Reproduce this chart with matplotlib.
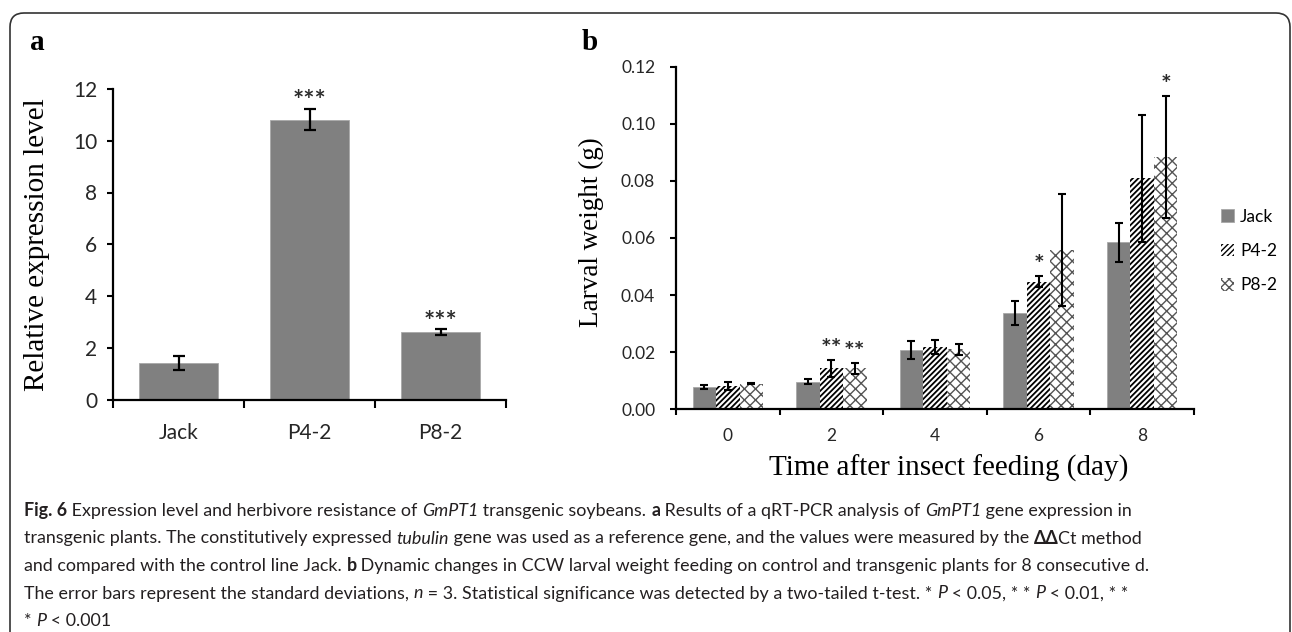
import matplotlib
matplotlib.use("Agg")
import matplotlib.pyplot as plt
import numpy as np
from matplotlib.patches import FancyBboxPatch, Patch
from matplotlib.transforms import IdentityTransform
from matplotlib.ticker import FormatStrFormatter, NullFormatter

# panel a: relative expression
lines_a = ["Jack", "P4-2", "P8-2"]
expr_a = [1.42, 10.82, 2.60]
expr_err_a = [0.27, 0.41, 0.11]
sig_a = ["", "***", "***"]

# panel b: larval weight
days = [0, 2, 4, 6, 8]
series_b = ["Jack", "P4-2", "P8-2"]
jack_b = [0.0077, 0.0097, 0.0208, 0.0338, 0.0585]
jack_err_b = [0.0007, 0.0008, 0.0031, 0.0042, 0.0068]
p42_b = [0.0082, 0.0144, 0.0219, 0.0447, 0.0809]
p42_err_b = [0.0014, 0.0030, 0.0025, 0.0020, 0.0222]
p82_b = [0.0089, 0.0144, 0.0210, 0.0558, 0.0884]
p82_err_b = [0.0002, 0.0019, 0.0019, 0.0196, 0.0215]
sig_jack = ["", "", "", "", ""]
sig_p42 = ["", "**", "", "*", ""]
sig_p82 = ["", "**", "", "", "*"]

W, H = 1292, 632
serif = "Liberation Serif"
sans = "Lato"
cap_font = "Lato"
dark = "#262626"

fig = plt.figure(figsize=(W / 100, H / 100), dpi=100)

# rounded frame around the whole figure
frame = FancyBboxPatch((10, -60), 1280, H - 13 + 60,
                       boxstyle="round,pad=0,rounding_size=14",
                       transform=IdentityTransform(), fill=False,
                       edgecolor="#333333", linewidth=1.2)
fig.add_artist(frame)

# ---------------- panel a ----------------
ax1 = fig.add_axes([113 / W, 1 - 399.5 / H, (506 - 113) / W, (399.5 - 89) / H])
xa = np.arange(len(lines_a))
ax1.bar(xa, expr_a, width=0.61, color="#808080", edgecolor="#a8a8a8", linewidth=0.6)
ax1.errorbar(xa, expr_a, yerr=expr_err_a, fmt="none", ecolor="black",
             elinewidth=1.6, capsize=4, capthick=1.6)
for xi, v, e, s in zip(xa, expr_a, expr_err_a, sig_a):
    if s:
        ax1.annotate(s, (xi, v + e), xytext=(0, -3), textcoords="offset points",
                     ha="center", va="bottom", fontsize=19, color="#2b2b2b",
                     family=sans, fontweight="bold")
ax1.set_xlim(-0.5, 2.5)
ax1.set_ylim(0, 12)
ax1.set_yticks(range(0, 13, 2))
ax1.set_xticks([-0.5, 0.5, 1.5, 2.5])
ax1.xaxis.set_major_formatter(NullFormatter())
ax1.set_xticks(xa, minor=True)
ax1.set_xticklabels(lines_a, minor=True)
ax1.tick_params(axis="x", which="major", direction="out", length=6, width=1.5)
ax1.tick_params(axis="x", which="minor", length=0, pad=17)
ax1.tick_params(axis="y", direction="out", length=4.5, width=1.5, pad=7)
for lab in ax1.get_xticklabels(minor=True) + ax1.get_yticklabels():
    lab.set_fontfamily(sans)
    lab.set_fontsize(15)
    lab.set_color(dark)
for sp in ["top", "right"]:
    ax1.spines[sp].set_visible(False)
for sp in ["left", "bottom"]:
    ax1.spines[sp].set_linewidth(1.6)
ax1.set_ylabel("Relative expression level", family=serif, fontsize=21, va="center")
ax1.yaxis.set_label_coords(-0.193, 0.5)

# ---------------- panel b ----------------
ax2 = fig.add_axes([676 / W, 1 - 409.3 / H, (1194 - 676) / W, (409.3 - 66.7) / H])
xb = np.arange(len(days))
bw = 0.227
plt.rcParams["hatch.linewidth"] = 1.3
b_jack = ax2.bar(xb - bw, jack_b, width=bw, color="#808080", edgecolor="#a8a8a8", linewidth=0.6)
b_p42 = ax2.bar(xb, p42_b, width=bw, color="white", edgecolor="black", hatch="//////", linewidth=0)
plt.rcParams["hatch.linewidth"] = 1.0
b_p82 = ax2.bar(xb + bw, p82_b, width=bw, color="white", edgecolor="#555555", hatch="xxx", linewidth=0)

for off, vals, errs, sigs in [(-bw, jack_b, jack_err_b, sig_jack),
                              (0, p42_b, p42_err_b, sig_p42),
                              (bw, p82_b, p82_err_b, sig_p82)]:
    ax2.errorbar(xb + off, vals, yerr=errs, fmt="none", ecolor="black",
                 elinewidth=1.5, capsize=3, capthick=1.5, zorder=3)
    for xi, v, e, s in zip(xb + off, vals, errs, sigs):
        if s:
            ax2.annotate(s, (xi, v + e), xytext=(0, -1), textcoords="offset points",
                         ha="center", va="bottom", fontsize=18, color="#2b2b2b",
                         family=sans, fontweight="bold")

ax2.set_xlim(-0.5, len(days) - 0.5)
ax2.set_ylim(0, 0.12)
ax2.set_yticks(np.arange(0, 0.121, 0.02))
ax2.yaxis.set_major_formatter(FormatStrFormatter("%.2f"))
ax2.set_xticks(np.arange(-0.5, len(days), 1.0))
ax2.xaxis.set_major_formatter(NullFormatter())
ax2.set_xticks(xb, minor=True)
ax2.set_xticklabels([str(d) for d in days], minor=True)
ax2.tick_params(axis="x", which="major", direction="out", length=4, width=1.5)
ax2.tick_params(axis="x", which="minor", length=0, pad=13.5)
ax2.tick_params(axis="y", direction="out", length=4, width=1.5, pad=11)
for lab in ax2.get_xticklabels(minor=True) + ax2.get_yticklabels():
    lab.set_fontfamily(sans)
    lab.set_fontsize(12.5)
    lab.set_color(dark)
for sp in ["top", "right"]:
    ax2.spines[sp].set_visible(False)
for sp in ["left", "bottom"]:
    ax2.spines[sp].set_linewidth(1.6)
ax2.set_ylabel("Larval weight (g)", family=serif, fontsize=19.5, va="center")
ax2.yaxis.set_label_coords(-0.164, 0.516)
ax2.set_xlabel("Time after insect feeding (day)", family=serif, fontsize=21, va="center")
ax2.xaxis.set_label_coords(0.527, -0.171)

handles = [Patch(facecolor="#808080", edgecolor="#a8a8a8", linewidth=0.6, label="Jack"),
           Patch(facecolor="white", edgecolor="black", hatch="//////", linewidth=0, label="P4-2"),
           Patch(facecolor="white", edgecolor="#555555", hatch="xxxx", linewidth=0, label="P8-2")]
fig.legend(handles=handles, loc="center left", bbox_to_anchor=(1221 / W, 1 - 251 / H),
           frameon=False, prop={"family": sans, "size": 12.5}, handlelength=0.75,
           handleheight=0.75, handletextpad=0.35, labelspacing=1.05, borderpad=0,
           borderaxespad=0)

# panel letters
fig.text(30 / W, 1 - 50 / H, "a", family=serif, fontweight="bold", fontsize=21, va="baseline")
fig.text(582 / W, 1 - 50 / H, "b", family=serif, fontweight="bold", fontsize=21, va="baseline")

# ---------------- caption ----------------
caption = [
    [("Fig. 6", "b"), (" Expression level and herbivore resistance of ", "n"), ("GmPT1", "i"),
     (" transgenic soybeans. ", "n"), ("a", "b"), (" Results of a qRT-PCR analysis of ", "n"),
     ("GmPT1", "i"), (" gene expression in", "n")],
    [("transgenic plants. The constitutively expressed ", "n"), ("tubulin", "i"),
     (" gene was used as a reference gene, and the values were measured by the ", "n"),
     ("\u0394\u0394", "b"), ("Ct method", "n")],
    [("and compared with the control line Jack. ", "n"), ("b", "b"),
     (" Dynamic changes in CCW larval weight feeding on control and transgenic plants for 8 consecutive d.", "n")],
    [("The error bars represent the standard deviations, ", "n"), ("n", "i"),
     (" = 3. Statistical significance was detected by a two-tailed t-test. * ", "n"), ("P", "i"),
     (" < 0.05, * * ", "n"), ("P", "i"), (" < 0.01, * *", "n")],
    [("* ", "n"), ("P", "i"), (" < 0.001", "n")],
]
cap_y = [516, 543.5, 571, 598.5, 626]

renderer = fig.canvas.get_renderer()


def style_kw(st, size):
    kw = {"family": cap_font, "fontsize": size, "color": "#231f20"}
    if st == "b":
        kw["fontweight"] = "bold"
    if st == "i":
        kw["fontstyle"] = "italic"
    return kw


def seg_width(text, st, size):
    t1 = fig.text(0, 0, "X" + text + "X", **style_kw(st, size))
    t2 = fig.text(0, 0, "XX", **style_kw(st, size))
    w = t1.get_window_extent(renderer).width - t2.get_window_extent(renderer).width
    t1.remove()
    t2.remove()
    return w


ref_w = sum(seg_width(s, st, 10) for s, st in caption[2])
cap_size = 10 * 1124 / ref_w

for parts, y in zip(caption, cap_y):
    x = 24
    for s, st in parts:
        fig.text(x / W, 1 - y / H, s, va="baseline", ha="left", **style_kw(st, cap_size))
        x += seg_width(s, st, cap_size)

fig.savefig("out.png", dpi=100)
